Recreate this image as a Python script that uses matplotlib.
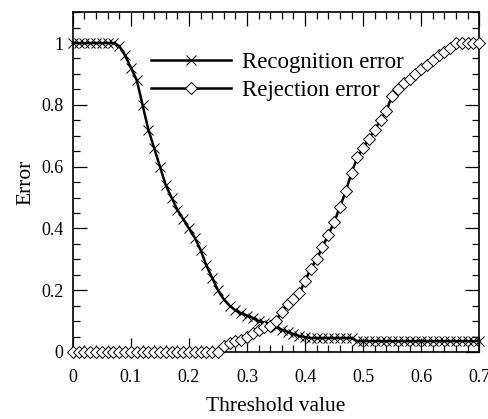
import matplotlib
matplotlib.use("Agg")
import matplotlib.pyplot as plt
import numpy as np
from matplotlib.ticker import MultipleLocator, FuncFormatter

thresholds = [round(0.01 * i, 2) for i in range(71)]

recognition_error = [
    1.0, 1.0, 1.0, 1.0, 1.0, 1.0, 1.0, 1.0, 0.99, 0.96,
    0.92, 0.88, 0.80, 0.72, 0.66, 0.60, 0.54, 0.50, 0.46, 0.43,
    0.40, 0.37, 0.33, 0.28, 0.24, 0.20, 0.17, 0.15, 0.135, 0.125,
    0.118, 0.11, 0.10, 0.095, 0.088, 0.08, 0.072, 0.065, 0.058, 0.052,
    0.048, 0.045, 0.045, 0.045, 0.045, 0.045, 0.045, 0.045, 0.045, 0.035,
    0.035, 0.035, 0.035, 0.035, 0.035, 0.035, 0.035, 0.035, 0.035, 0.035,
    0.035, 0.035, 0.035, 0.035, 0.035, 0.035, 0.035, 0.035, 0.035, 0.035,
    0.035,
]

rejection_error = [
    0.0, 0.0, 0.0, 0.0, 0.0, 0.0, 0.0, 0.0, 0.0, 0.0,
    0.0, 0.0, 0.0, 0.0, 0.0, 0.0, 0.0, 0.0, 0.0, 0.0,
    0.0, 0.0, 0.0, 0.0, 0.0, 0.0, 0.02, 0.03, 0.035, 0.04,
    0.05, 0.06, 0.07, 0.08, 0.085, 0.10, 0.13, 0.155, 0.17, 0.19,
    0.23, 0.27, 0.30, 0.34, 0.38, 0.42, 0.47, 0.52, 0.58, 0.63,
    0.66, 0.69, 0.72, 0.75, 0.78, 0.83, 0.85, 0.87, 0.885, 0.90,
    0.915, 0.93, 0.945, 0.96, 0.97, 0.985, 1.0, 1.0, 1.0, 1.0,
    1.0,
]

series_labels = ["Recognition error", "Rejection error"]
x_label = "Threshold value"
y_label = "Error"

plt.rcParams['font.family'] = ['Liberation Serif', 'DejaVu Serif']

fig = plt.figure(figsize=(4.89, 4.19), dpi=100)
ax = fig.add_axes([0.149, 0.160, 0.831, 0.811])

ax.plot(thresholds, recognition_error, color='black', lw=1.8, marker='x',
        markersize=6.5, markeredgewidth=0.7, label=series_labels[0], clip_on=False, zorder=3)
ax.plot(thresholds, rejection_error, color='black', lw=1.8, marker='D',
        markersize=5.8, markerfacecolor='white', markeredgecolor='black',
        markeredgewidth=0.7, label=series_labels[1], clip_on=False, zorder=4)

ax.set_xlim(0, 0.7)
ax.set_ylim(0, 1.1)

ax.xaxis.set_major_locator(MultipleLocator(0.1))
ax.xaxis.set_minor_locator(MultipleLocator(0.02))
ax.yaxis.set_major_locator(MultipleLocator(0.2))
ax.yaxis.set_minor_locator(MultipleLocator(0.05))
fmt = FuncFormatter(lambda v, p: ('%g' % round(v, 2)))
ax.xaxis.set_major_formatter(fmt)
ax.yaxis.set_major_formatter(fmt)

ax.tick_params(which='both', direction='in', top=True, right=True, width=0.9)
ax.tick_params(which='major', length=10, labelsize=13)
ax.tick_params(axis='x', which='major', pad=12)
ax.tick_params(axis='y', which='major', pad=7)
ax.tick_params(which='minor', length=5)

for s in ax.spines.values():
    s.set_linewidth(1.2)

ax.set_xlabel(x_label, fontsize=15.5, labelpad=8)
ax.set_ylabel(y_label, fontsize=15.5, labelpad=4)

leg = ax.legend(loc='upper left', bbox_to_anchor=(0.17, 0.91), frameon=False,
                fontsize=16.5, handlelength=3.5, handletextpad=0.45,
                labelspacing=0.3, borderaxespad=0)

fig.savefig('out.png', dpi=100)
